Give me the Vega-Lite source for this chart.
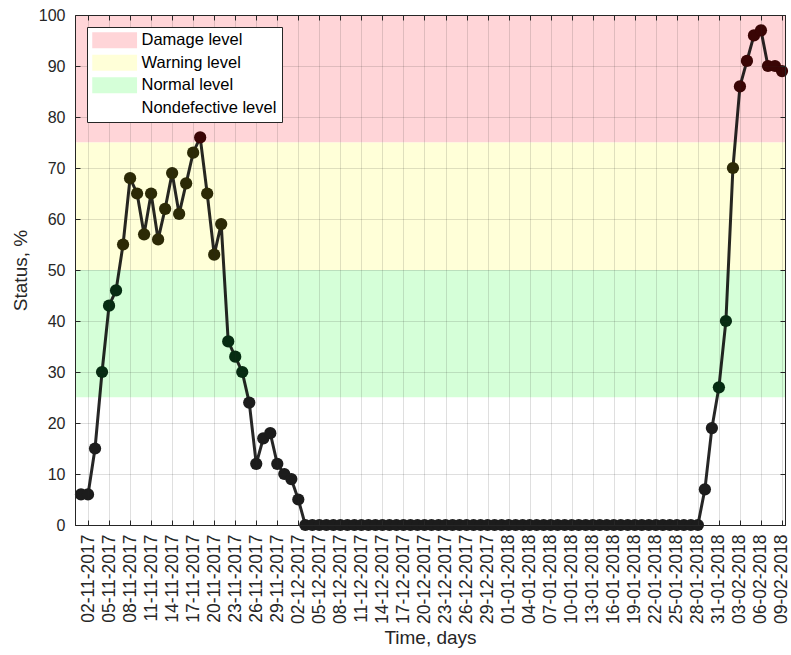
{
  "$schema": "https://vega.github.io/schema/vega-lite/v6.json",
  "width": 710,
  "height": 510,
  "autosize": {"type": "none"},
  "padding": {"left": 75, "top": 15, "right": 6, "bottom": 130},
  "background": "white",
  "config": {
    "view": {"stroke": "#262626", "strokeWidth": 1},
    "font": "Liberation Sans"
  },
  "data": {"values": [
    {"date": "2017-11-01", "status": 6, "zone": "Nondefective level"},
    {"date": "2017-11-02", "status": 6, "zone": "Nondefective level"},
    {"date": "2017-11-03", "status": 15, "zone": "Nondefective level"},
    {"date": "2017-11-04", "status": 30, "zone": "Normal level"},
    {"date": "2017-11-05", "status": 43, "zone": "Normal level"},
    {"date": "2017-11-06", "status": 46, "zone": "Normal level"},
    {"date": "2017-11-07", "status": 55, "zone": "Warning level"},
    {"date": "2017-11-08", "status": 68, "zone": "Warning level"},
    {"date": "2017-11-09", "status": 65, "zone": "Warning level"},
    {"date": "2017-11-10", "status": 57, "zone": "Warning level"},
    {"date": "2017-11-11", "status": 65, "zone": "Warning level"},
    {"date": "2017-11-12", "status": 56, "zone": "Warning level"},
    {"date": "2017-11-13", "status": 62, "zone": "Warning level"},
    {"date": "2017-11-14", "status": 69, "zone": "Warning level"},
    {"date": "2017-11-15", "status": 61, "zone": "Warning level"},
    {"date": "2017-11-16", "status": 67, "zone": "Warning level"},
    {"date": "2017-11-17", "status": 73, "zone": "Warning level"},
    {"date": "2017-11-18", "status": 76, "zone": "Damage level"},
    {"date": "2017-11-19", "status": 65, "zone": "Warning level"},
    {"date": "2017-11-20", "status": 53, "zone": "Warning level"},
    {"date": "2017-11-21", "status": 59, "zone": "Warning level"},
    {"date": "2017-11-22", "status": 36, "zone": "Normal level"},
    {"date": "2017-11-23", "status": 33, "zone": "Normal level"},
    {"date": "2017-11-24", "status": 30, "zone": "Normal level"},
    {"date": "2017-11-25", "status": 24, "zone": "Nondefective level"},
    {"date": "2017-11-26", "status": 12, "zone": "Nondefective level"},
    {"date": "2017-11-27", "status": 17, "zone": "Nondefective level"},
    {"date": "2017-11-28", "status": 18, "zone": "Nondefective level"},
    {"date": "2017-11-29", "status": 12, "zone": "Nondefective level"},
    {"date": "2017-11-30", "status": 10, "zone": "Nondefective level"},
    {"date": "2017-12-01", "status": 9, "zone": "Nondefective level"},
    {"date": "2017-12-02", "status": 5, "zone": "Nondefective level"},
    {"date": "2017-12-03", "status": 0, "zone": "Nondefective level"},
    {"date": "2017-12-04", "status": 0, "zone": "Nondefective level"},
    {"date": "2017-12-05", "status": 0, "zone": "Nondefective level"},
    {"date": "2017-12-06", "status": 0, "zone": "Nondefective level"},
    {"date": "2017-12-07", "status": 0, "zone": "Nondefective level"},
    {"date": "2017-12-08", "status": 0, "zone": "Nondefective level"},
    {"date": "2017-12-09", "status": 0, "zone": "Nondefective level"},
    {"date": "2017-12-10", "status": 0, "zone": "Nondefective level"},
    {"date": "2017-12-11", "status": 0, "zone": "Nondefective level"},
    {"date": "2017-12-12", "status": 0, "zone": "Nondefective level"},
    {"date": "2017-12-13", "status": 0, "zone": "Nondefective level"},
    {"date": "2017-12-14", "status": 0, "zone": "Nondefective level"},
    {"date": "2017-12-15", "status": 0, "zone": "Nondefective level"},
    {"date": "2017-12-16", "status": 0, "zone": "Nondefective level"},
    {"date": "2017-12-17", "status": 0, "zone": "Nondefective level"},
    {"date": "2017-12-18", "status": 0, "zone": "Nondefective level"},
    {"date": "2017-12-19", "status": 0, "zone": "Nondefective level"},
    {"date": "2017-12-20", "status": 0, "zone": "Nondefective level"},
    {"date": "2017-12-21", "status": 0, "zone": "Nondefective level"},
    {"date": "2017-12-22", "status": 0, "zone": "Nondefective level"},
    {"date": "2017-12-23", "status": 0, "zone": "Nondefective level"},
    {"date": "2017-12-24", "status": 0, "zone": "Nondefective level"},
    {"date": "2017-12-25", "status": 0, "zone": "Nondefective level"},
    {"date": "2017-12-26", "status": 0, "zone": "Nondefective level"},
    {"date": "2017-12-27", "status": 0, "zone": "Nondefective level"},
    {"date": "2017-12-28", "status": 0, "zone": "Nondefective level"},
    {"date": "2017-12-29", "status": 0, "zone": "Nondefective level"},
    {"date": "2017-12-30", "status": 0, "zone": "Nondefective level"},
    {"date": "2017-12-31", "status": 0, "zone": "Nondefective level"},
    {"date": "2018-01-01", "status": 0, "zone": "Nondefective level"},
    {"date": "2018-01-02", "status": 0, "zone": "Nondefective level"},
    {"date": "2018-01-03", "status": 0, "zone": "Nondefective level"},
    {"date": "2018-01-04", "status": 0, "zone": "Nondefective level"},
    {"date": "2018-01-05", "status": 0, "zone": "Nondefective level"},
    {"date": "2018-01-06", "status": 0, "zone": "Nondefective level"},
    {"date": "2018-01-07", "status": 0, "zone": "Nondefective level"},
    {"date": "2018-01-08", "status": 0, "zone": "Nondefective level"},
    {"date": "2018-01-09", "status": 0, "zone": "Nondefective level"},
    {"date": "2018-01-10", "status": 0, "zone": "Nondefective level"},
    {"date": "2018-01-11", "status": 0, "zone": "Nondefective level"},
    {"date": "2018-01-12", "status": 0, "zone": "Nondefective level"},
    {"date": "2018-01-13", "status": 0, "zone": "Nondefective level"},
    {"date": "2018-01-14", "status": 0, "zone": "Nondefective level"},
    {"date": "2018-01-15", "status": 0, "zone": "Nondefective level"},
    {"date": "2018-01-16", "status": 0, "zone": "Nondefective level"},
    {"date": "2018-01-17", "status": 0, "zone": "Nondefective level"},
    {"date": "2018-01-18", "status": 0, "zone": "Nondefective level"},
    {"date": "2018-01-19", "status": 0, "zone": "Nondefective level"},
    {"date": "2018-01-20", "status": 0, "zone": "Nondefective level"},
    {"date": "2018-01-21", "status": 0, "zone": "Nondefective level"},
    {"date": "2018-01-22", "status": 0, "zone": "Nondefective level"},
    {"date": "2018-01-23", "status": 0, "zone": "Nondefective level"},
    {"date": "2018-01-24", "status": 0, "zone": "Nondefective level"},
    {"date": "2018-01-25", "status": 0, "zone": "Nondefective level"},
    {"date": "2018-01-26", "status": 0, "zone": "Nondefective level"},
    {"date": "2018-01-27", "status": 0, "zone": "Nondefective level"},
    {"date": "2018-01-28", "status": 0, "zone": "Nondefective level"},
    {"date": "2018-01-29", "status": 7, "zone": "Nondefective level"},
    {"date": "2018-01-30", "status": 19, "zone": "Nondefective level"},
    {"date": "2018-01-31", "status": 27, "zone": "Normal level"},
    {"date": "2018-02-01", "status": 40, "zone": "Normal level"},
    {"date": "2018-02-02", "status": 70, "zone": "Warning level"},
    {"date": "2018-02-03", "status": 86, "zone": "Damage level"},
    {"date": "2018-02-04", "status": 91, "zone": "Damage level"},
    {"date": "2018-02-05", "status": 96, "zone": "Damage level"},
    {"date": "2018-02-06", "status": 97, "zone": "Damage level"},
    {"date": "2018-02-07", "status": 90, "zone": "Damage level"},
    {"date": "2018-02-08", "status": 90, "zone": "Damage level"},
    {"date": "2018-02-09", "status": 89, "zone": "Damage level"}
  ]},
  "layer": [
    {
      "data": {"values": [
        {"level": "Damage level", "lo": 75, "hi": 100},
        {"level": "Warning level", "lo": 50, "hi": 75},
        {"level": "Normal level", "lo": 25, "hi": 50},
        {"level": "Nondefective level", "lo": 0, "hi": 25}
      ]},
      "mark": {"type": "rect", "strokeWidth": 0},
      "encoding": {
        "y": {"field": "lo", "type": "quantitative", "axis": null, "scale": {"domain": [0, 100]}},
        "y2": {"field": "hi"},
        "color": {
          "field": "level", "type": "nominal",
          "scale": {
            "domain": ["Damage level", "Warning level", "Normal level", "Nondefective level"],
            "range": ["#FFD5D8", "#FFFFD8", "#D5FFD8", "#FFFFFF"]
          },
          "legend": {
            "orient": "none", "legendX": 12, "legendY": 12, "title": null,
            "symbolType": "M-1,-1H4.6V1H-1Z", "symbolSize": 256, "symbolStrokeWidth": 0,
            "symbolOpacity": 1,
            "labelFont": "Liberation Sans", "labelFontSize": 16.5, "labelColor": "#000000",
            "labelOffset": 33, "rowPadding": 5.5, "padding": 5,
            "strokeColor": "#262626", "fillColor": "#FFFFFF", "zindex": 2
          }
        }
      }
    },
    {
      "mark": {"type": "line", "color": "#000000", "strokeWidth": 3, "opacity": 0.85},
      "encoding": {
        "x": {
          "field": "date", "type": "temporal",
          "scale": {"type": "utc", "domain": [
            {"year": 2017, "month": "October", "date": 31, "hours": 3, "minutes": 26, "utc": true},
            {"year": 2018, "month": "February", "date": 9, "hours": 10, "minutes": 17, "utc": true}
          ]},
          "axis": {
            "orient": "bottom", "zindex": 1,
            "values": [
              {"year": 2017, "month": "November", "date": 2, "utc": true},
              {"year": 2017, "month": "November", "date": 5, "utc": true},
              {"year": 2017, "month": "November", "date": 8, "utc": true},
              {"year": 2017, "month": "November", "date": 11, "utc": true},
              {"year": 2017, "month": "November", "date": 14, "utc": true},
              {"year": 2017, "month": "November", "date": 17, "utc": true},
              {"year": 2017, "month": "November", "date": 20, "utc": true},
              {"year": 2017, "month": "November", "date": 23, "utc": true},
              {"year": 2017, "month": "November", "date": 26, "utc": true},
              {"year": 2017, "month": "November", "date": 29, "utc": true},
              {"year": 2017, "month": "December", "date": 2, "utc": true},
              {"year": 2017, "month": "December", "date": 5, "utc": true},
              {"year": 2017, "month": "December", "date": 8, "utc": true},
              {"year": 2017, "month": "December", "date": 11, "utc": true},
              {"year": 2017, "month": "December", "date": 14, "utc": true},
              {"year": 2017, "month": "December", "date": 17, "utc": true},
              {"year": 2017, "month": "December", "date": 20, "utc": true},
              {"year": 2017, "month": "December", "date": 23, "utc": true},
              {"year": 2017, "month": "December", "date": 26, "utc": true},
              {"year": 2017, "month": "December", "date": 29, "utc": true},
              {"year": 2018, "month": "January", "date": 1, "utc": true},
              {"year": 2018, "month": "January", "date": 4, "utc": true},
              {"year": 2018, "month": "January", "date": 7, "utc": true},
              {"year": 2018, "month": "January", "date": 10, "utc": true},
              {"year": 2018, "month": "January", "date": 13, "utc": true},
              {"year": 2018, "month": "January", "date": 16, "utc": true},
              {"year": 2018, "month": "January", "date": 19, "utc": true},
              {"year": 2018, "month": "January", "date": 22, "utc": true},
              {"year": 2018, "month": "January", "date": 25, "utc": true},
              {"year": 2018, "month": "January", "date": 28, "utc": true},
              {"year": 2018, "month": "January", "date": 31, "utc": true},
              {"year": 2018, "month": "February", "date": 3, "utc": true},
              {"year": 2018, "month": "February", "date": 6, "utc": true},
              {"year": 2018, "month": "February", "date": 9, "utc": true}
            ],
            "format": "%d-%m-%Y", "labelAngle": -90, "labelOverlap": false,
            "labelFont": "Liberation Sans", "labelFontSize": 17.5, "labelColor": "#262626",
            "labelPadding": 14, "tickSize": -5, "tickColor": "#262626", "domainColor": "#262626",
            "grid": true, "gridColor": "#262626", "gridOpacity": 0.15, "gridWidth": 1,
            "title": "Time, days", "titleFont": "Liberation Sans", "titleFontSize": 19,
            "titleFontWeight": "normal", "titleColor": "#262626", "titlePadding": 5
          }
        },
        "y": {
          "field": "status", "type": "quantitative", "scale": {"domain": [0, 100]},
          "axis": {
            "orient": "left", "zindex": 1,
            "values": [0, 10, 20, 30, 40, 50, 60, 70, 80, 90, 100],
            "labelFont": "Liberation Sans", "labelFontSize": 16, "labelColor": "#262626",
            "labelPadding": 15, "tickSize": -5, "tickColor": "#262626", "domainColor": "#262626",
            "grid": true, "gridColor": "#262626", "gridOpacity": 0.15, "gridWidth": 1,
            "title": "Status, %", "titleFont": "Liberation Sans", "titleFontSize": 19,
            "titleFontWeight": "normal", "titleColor": "#262626", "titlePadding": 8
          }
        }
      }
    },
    {
      "mark": {"type": "circle", "size": 150, "opacity": 1, "strokeWidth": 0},
      "encoding": {
        "x": {
          "field": "date", "type": "temporal",
          "axis": {
            "orient": "top", "zindex": 1, "labels": false, "grid": false, "title": null,
            "values": [
              {"year": 2017, "month": "November", "date": 2, "utc": true},
              {"year": 2017, "month": "November", "date": 5, "utc": true},
              {"year": 2017, "month": "November", "date": 8, "utc": true},
              {"year": 2017, "month": "November", "date": 11, "utc": true},
              {"year": 2017, "month": "November", "date": 14, "utc": true},
              {"year": 2017, "month": "November", "date": 17, "utc": true},
              {"year": 2017, "month": "November", "date": 20, "utc": true},
              {"year": 2017, "month": "November", "date": 23, "utc": true},
              {"year": 2017, "month": "November", "date": 26, "utc": true},
              {"year": 2017, "month": "November", "date": 29, "utc": true},
              {"year": 2017, "month": "December", "date": 2, "utc": true},
              {"year": 2017, "month": "December", "date": 5, "utc": true},
              {"year": 2017, "month": "December", "date": 8, "utc": true},
              {"year": 2017, "month": "December", "date": 11, "utc": true},
              {"year": 2017, "month": "December", "date": 14, "utc": true},
              {"year": 2017, "month": "December", "date": 17, "utc": true},
              {"year": 2017, "month": "December", "date": 20, "utc": true},
              {"year": 2017, "month": "December", "date": 23, "utc": true},
              {"year": 2017, "month": "December", "date": 26, "utc": true},
              {"year": 2017, "month": "December", "date": 29, "utc": true},
              {"year": 2018, "month": "January", "date": 1, "utc": true},
              {"year": 2018, "month": "January", "date": 4, "utc": true},
              {"year": 2018, "month": "January", "date": 7, "utc": true},
              {"year": 2018, "month": "January", "date": 10, "utc": true},
              {"year": 2018, "month": "January", "date": 13, "utc": true},
              {"year": 2018, "month": "January", "date": 16, "utc": true},
              {"year": 2018, "month": "January", "date": 19, "utc": true},
              {"year": 2018, "month": "January", "date": 22, "utc": true},
              {"year": 2018, "month": "January", "date": 25, "utc": true},
              {"year": 2018, "month": "January", "date": 28, "utc": true},
              {"year": 2018, "month": "January", "date": 31, "utc": true},
              {"year": 2018, "month": "February", "date": 3, "utc": true},
              {"year": 2018, "month": "February", "date": 6, "utc": true},
              {"year": 2018, "month": "February", "date": 9, "utc": true}
            ],
            "tickSize": -5, "tickColor": "#262626", "domainColor": "#262626"
          }
        },
        "y": {
          "field": "status", "type": "quantitative",
          "axis": {
            "orient": "right", "zindex": 1, "labels": false, "grid": false, "title": null,
            "values": [0, 10, 20, 30, 40, 50, 60, 70, 80, 90, 100],
            "tickSize": -5, "tickColor": "#262626", "domainColor": "#262626"
          }
        },
        "color": {
          "field": "zone", "type": "nominal", "legend": null,
          "scale": {
            "domain": ["Damage level", "Warning level", "Normal level", "Nondefective level"],
            "range": ["#3a0505", "#2c2a06", "#062c12", "#1c1c1c"]
          }
        }
      }
    }
  ],
  "resolve": {
    "scale": {"color": "independent"},
    "axis": {"x": "independent", "y": "independent"}
  }
}
